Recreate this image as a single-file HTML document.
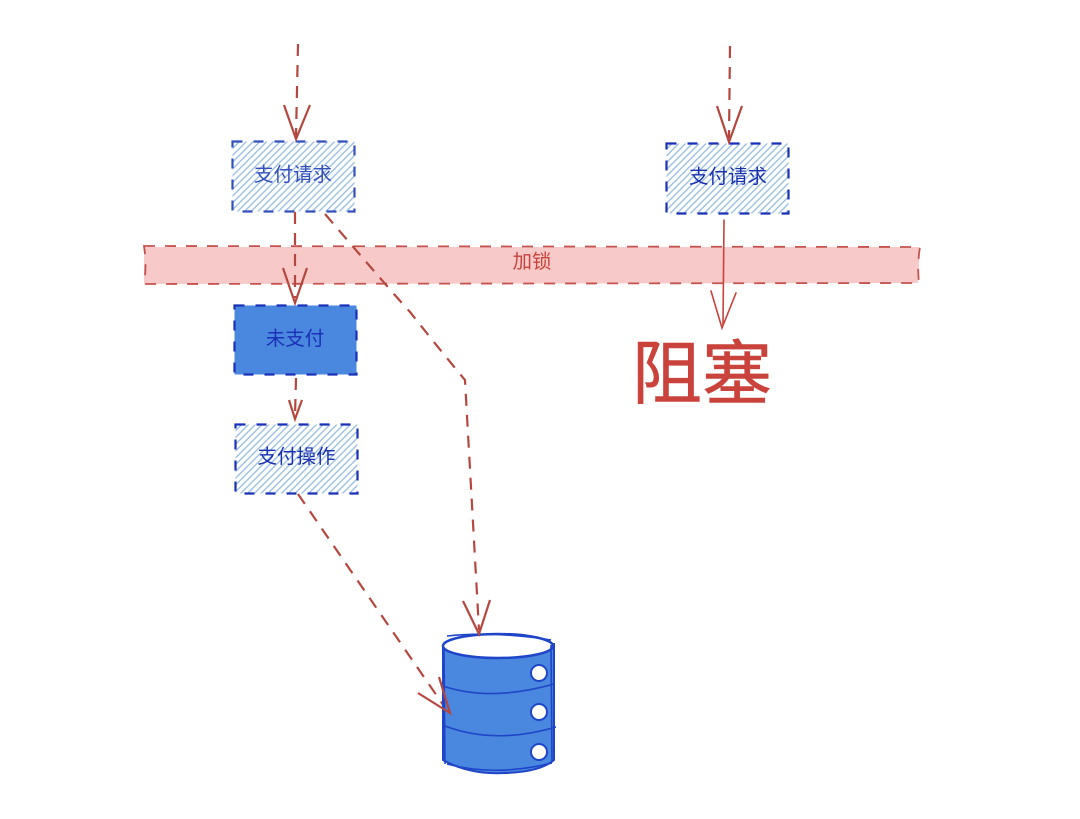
<!DOCTYPE html>
<html><head><meta charset="utf-8"><style>
html,body{margin:0;padding:0;background:#fff;width:1080px;height:819px;overflow:hidden}
svg{display:block}
text{font-family:"Liberation Sans","Noto Sans CJK SC",sans-serif}
</style></head><body>
<svg width="1080" height="819" viewBox="0 0 1080 819" xmlns="http://www.w3.org/2000/svg">
<defs>
<pattern id="h" width="4.800" height="4.800" patternUnits="userSpaceOnUse" patternTransform="rotate(45)">
<rect width="4.800" height="4.800" fill="#fff"/><rect width="1.400" height="4.800" fill="#9dc0e4"/>
</pattern>
</defs>
<!-- lock band -->
<path d="M144 247L920 247L918 283L144 284Z" fill="#f7c9c8"/>
<path d="M144 246L920 247Q917 265 919 283L144 284Q147 265 144 246Z" fill="none" stroke="#c4534f" stroke-width="1.800" stroke-dasharray="11 10"/>
<text x="532" y="268" font-size="19.500" fill="#c9433c" text-anchor="middle">加锁</text>
<!-- boxes -->
<rect x="232.500" y="141.500" width="122" height="70" fill="url(#h)" stroke="#3550bd" stroke-width="2.200" stroke-dasharray="10 11"/>
<text x="293" y="181" font-size="19.500" fill="#3550bd" text-anchor="middle">支付请求</text>
<rect x="666.500" y="143.500" width="122" height="70" fill="url(#h)" stroke="#1a30b8" stroke-width="2.200" stroke-dasharray="10 11"/>
<text x="728" y="183" font-size="19.500" fill="#1a30b0" text-anchor="middle">支付请求</text>
<rect x="234.500" y="305.500" width="122" height="69" fill="#4a87de" stroke="#1a30b8" stroke-width="2.200" stroke-dasharray="10 11"/>
<text x="295" y="345" font-size="19.500" fill="#1a30b8" text-anchor="middle">未支付</text>
<rect x="235.500" y="424.500" width="122" height="69" fill="url(#h)" stroke="#1a30b8" stroke-width="2.200" stroke-dasharray="10 11"/>
<text x="296.500" y="463" font-size="19.500" fill="#1a30b0" text-anchor="middle">支付操作</text>
<!-- connectors -->
<g fill="none" stroke="#b5473f" stroke-width="2.200" stroke-linecap="butt">
<path d="M298 44L296 136" stroke-dasharray="12 9"/>
<path d="M284 105L296 139L310 105"/>
<path d="M730 46L729 138" stroke-dasharray="12 9"/>
<path d="M717 106L729 142L742 106"/>
<path d="M295 212L295 298" stroke-dasharray="12 9"/>
<path d="M283 268L295 303L307 268"/>
<path d="M296 378L295 416" stroke-dasharray="12 9"/>
<path d="M289 400L295 419L302 400"/>
<path d="M325 214Q390 290 410 312Q440 350 465 380L479 630" stroke-dasharray="12 9"/>
<path d="M298 494L448 712" stroke-dasharray="12 9"/>
</g>
<g fill="none" stroke="#c9433c" stroke-width="1.600" stroke-linecap="round">
<path d="M724 220L723 325"/>
<path d="M711 291L722 328L736 293"/>
</g>
<text x="702" y="398" font-size="70" fill="#c9433c" stroke="#c9433c" stroke-width="0.600" text-anchor="middle">阻塞</text>
<!-- database -->
<path d="M443 646L443 760Q470 775 505 773Q540 772 554 760L554 644Z" fill="#4a87de" stroke="#1f45c8" stroke-width="2"/>
<ellipse cx="498" cy="646" rx="55" ry="12" fill="#fff" stroke="#1f45c8" stroke-width="2.500"/>
<g fill="none" stroke="#1f45c8" stroke-width="1.600">
<path d="M443 686Q490 702 554 684"/>
<path d="M445 726Q495 745 556 727"/>
<path d="M551 645L552 762"/>
<path d="M444 648L445 764"/>
<path d="M447 636Q495 631 551 640"/>
<path d="M447 764Q495 777 552 763"/>
</g>
<g fill="#fff" stroke="#1f45c8" stroke-width="2">
<circle cx="539" cy="673" r="8"/><circle cx="539" cy="712" r="8"/><circle cx="539" cy="752" r="8"/>
</g>
<g fill="none" stroke="#b5473f" stroke-width="2.200"><path d="M439 677L450 713L418 693"/><path d="M463 601L479 634L490 600"/></g>
</svg>
</body></html>
